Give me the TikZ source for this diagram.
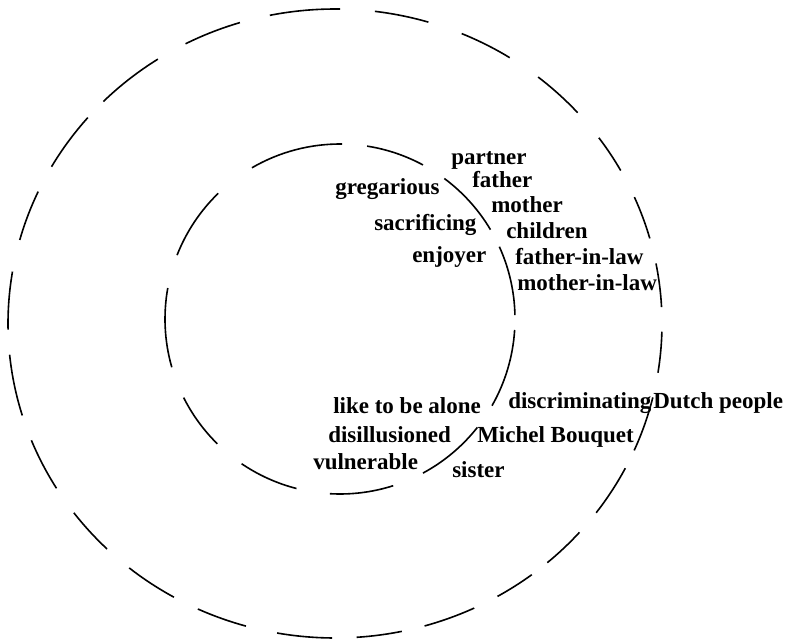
\documentclass[tikz,border=0pt]{standalone}
\usepackage{fontspec}
\setmainfont{Liberation Serif}
\usepackage{tikz}

\begin{document}
\begin{tikzpicture}[x=0.75pt,y=0.75pt,yscale=-1,xscale=1,
    lbl/.style={anchor=base west,inner sep=0pt,font=\bfseries\fontsize{17.25}{20}\selectfont},
    ring/.style={line width=1.2pt}]
        \useasboundingbox (0,0) rectangle (790,640);
        % outer ring
        \foreach \a/\b in {1.5/9.0, 13.6/23.8, 27.4/37.0, 41.6/49.5, 53.0/60.2, 64.8/74.1, 78.2/86.2, 90.5/100.2, 105.8/114.8, 119.5/129.0, 134.2/143.0, 148.4/158.2, 163.0/174.3, 178.9/189.5, 195.4/204.8, 209.9/220.9, 224.9/237.2, 242.8/253.1, 258.5/270.9, 277.0/286.6, 292.8/302.3, 308.4/317.9, 323.8/330.9, 336.3/344.3, 349.0/357.0}
            \draw [ring] (335,323.5) ++(\a:327 and 314.5) arc [start angle=\a, end angle=\b, x radius=327, y radius=314.5];
        % inner ring
        \foreach \a/\b in {3.6/29.7, 38.3/61.7, 72.3/93.3, 104.4/124.2, 134.5/153.3, 164.0/190.2, 201.4/225.9, 239.8/270.7, 278.9/298.3, 306.6/329.3, 335.6/358.7}
            \draw [ring] (340,319) ++(\a:175) arc [start angle=\a, end angle=\b, radius=175];

        \node [lbl] (partner) at (451,164) {partner};
        \node [lbl] (father) at (472,187) {father};
        \node [lbl] (gregarious) at (335,194) {gregarious};
        \node [lbl] (mother) at (491,212) {mother};
        \node [lbl] (sacrificing) at (374,230) {sacrificing};
        \node [lbl] (children) at (506,238) {children};
        \node [lbl] (enjoyer) at (412,262) {enjoyer};
        \node [lbl] (fatherlaw) at (515,264) {father-in-law};
        \node [lbl] (motherlaw) at (517,290) {mother-in-law};
        \node [lbl] (discr) at (508,408) {discriminating};
        \node [lbl] (dutch) at (653,408) {Dutch people};
        \node [lbl] (alone) at (333,413) {like to be alone};
        \node [lbl] (disill) at (328,442) {disillusioned};
        \node [lbl] (michel) at (477,442) {Michel Bouquet};
        \node [lbl] (vulner) at (313,469) {vulnerable};
        \node [lbl] (sister) at (452,477) {sister};
    \end{tikzpicture}
\end{document}
